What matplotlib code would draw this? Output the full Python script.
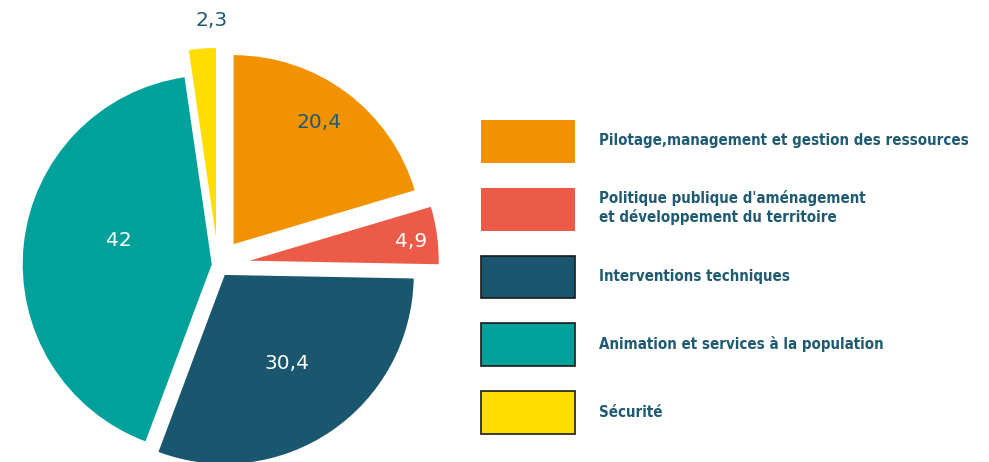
import numpy as np
import matplotlib
matplotlib.use("Agg")
import matplotlib.pyplot as plt
from matplotlib.patches import Patch

# data
categories = ["Pilotage,management et gestion des ressources",
              "Politique publique d'aménagement\net développement du territoire",
              "Interventions techniques",
              "Animation et services à la population",
              "Sécurité"]
values = [20.4, 4.9, 30.4, 42, 2.3]
value_labels = ["20,4", "4,9", "30,4", "42", "2,3"]

# style
colors = ["#F29200", "#EC5B47", "#1A566E", "#00A19A", "#FFDD00"]
edge_cols = ["none", "none", "#1a1a1a", "#1a1a1a", "#1a1a1a"]
R = 189
explode_px = [26, 32, 12, 6.3, 28]   # pie explode is in data units here (pixels)
label_cols = ["#1F5A73", "white", "white", "white", "#1F5A73"]
label_dist = [0.785, 0.86, 0.571, 0.506, 1.148]
label_shift = [1.5, -0.8, 1.0, -8.0, -2.85]   # degrees off the wedge middle
text_col = "#1F5A73"

W, H = 989, 462
fig = plt.figure(figsize=(W / 100, H / 100), dpi=100)
ax = fig.add_axes([0, 0, 1, 1])

cx, cy = 218, H - 265
wedges, _ = ax.pie(values, colors=colors, explode=explode_px, startangle=90,
                   counterclock=False, radius=R, center=(cx, cy),
                   wedgeprops=dict(linewidth=0))

for w, lab, col, f, s in zip(wedges, value_labels, label_cols, label_dist, label_shift):
    mid = np.deg2rad((w.theta1 + w.theta2) / 2 + s)
    x0, y0 = w.center
    ax.text(x0 + f * R * np.cos(mid), y0 + f * R * np.sin(mid), lab,
            color=col, fontsize=14.5, family="DejaVu Sans", ha="center", va="center")

ax.set_xlim(0, W)
ax.set_ylim(0, H)
ax.set_aspect("equal")
ax.axis("off")

fs = 10.8
px = fs * 100 / 72
handles = [Patch(facecolor=c, edgecolor=e, linewidth=1.2) for c, e in zip(colors, edge_cols)]
leg = ax.legend(handles, categories, loc="upper left",
                bbox_to_anchor=(481, H - 120), bbox_transform=ax.transData,
                frameon=False, borderpad=0, borderaxespad=0,
                handlelength=94 / px, handleheight=43 / px * 1.4, handletextpad=24 / px,
                labelspacing=25 / px,
                prop=dict(family="DejaVu Sans", stretch="condensed",
                          weight="bold", size=fs))
for t in leg.get_texts():
    t.set_color(text_col)

fig.savefig("out.png", dpi=100)
